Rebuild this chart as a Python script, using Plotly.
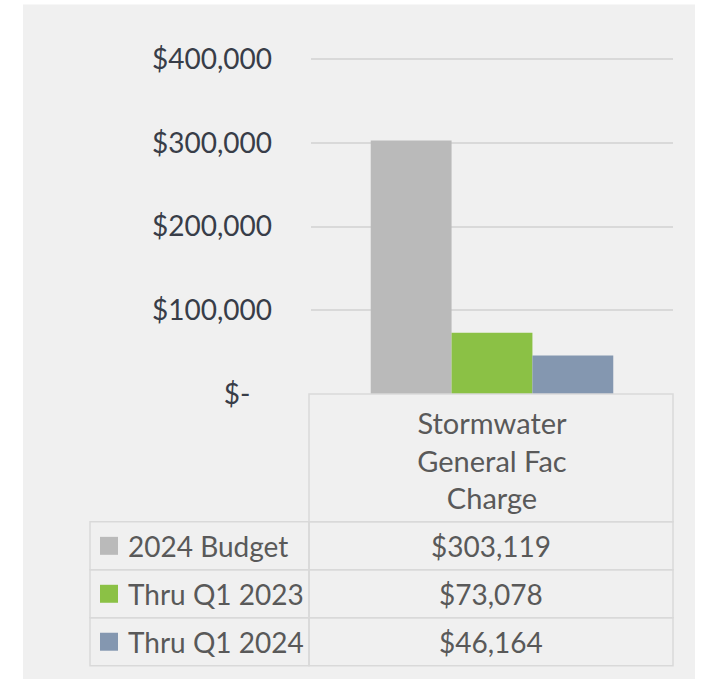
import plotly.graph_objects as go

# ---- data ----
categories = ["Stormwater<br>General Fac<br>Charge"]
series_names = ["2024 Budget", "Thru Q1 2023", "Thru Q1 2024"]
series_values = [303119, 73078, 46164]
series_colors = ["#bababa", "#8bc145", "#8497b0"]
y_tick_values = [0, 100000, 200000, 300000, 400000]
y_tick_labels = ["$-\u00a0\u00a0\u00a0", "$100,000", "$200,000", "$300,000", "$400,000"]

W, H = 705, 679
Y_MAX = 410000
K = (394 - 59) / 400000.0          # pixels per dollar
L, R, B = 311, 673, 394
T = B - Y_MAX * K                  # plot area top in pixels
FONT = "Lato"

def px(x):
    return (x - L) / (R - L)

def py(y):
    return (B - y) / (B - T)

fig = go.Figure()
for name, val, col in zip(series_names, series_values, series_colors):
    fig.add_trace(go.Bar(x=categories, y=[val], name=name, marker_color=col,
                         marker_line_width=0, showlegend=False, hoverinfo="skip"))

shapes = []
# gray background panel
shapes.append(dict(type="rect", xref="paper", yref="paper", x0=px(23), x1=px(695),
                   y0=py(680), y1=py(4), fillcolor="#f0f0f0", line_width=0, layer="below"))
border = dict(color="#d9d9d9", width=1.5)
# header cell
shapes.append(dict(type="rect", xref="paper", yref="paper", x0=px(309), x1=px(673),
                   y0=py(522), y1=py(394), line=border, fillcolor="rgba(0,0,0,0)"))
annotations = []
row_top = 522
row_h = 48
for i, (name, val, col) in enumerate(zip(series_names, series_values, series_colors)):
    y0 = row_top + i * row_h
    y1 = y0 + row_h
    yc = (y0 + y1) / 2
    shapes.append(dict(type="rect", xref="paper", yref="paper", x0=px(90), x1=px(309),
                       y0=py(y1), y1=py(y0), line=border, fillcolor="rgba(0,0,0,0)"))
    shapes.append(dict(type="rect", xref="paper", yref="paper", x0=px(309), x1=px(673),
                       y0=py(y1), y1=py(y0), line=border, fillcolor="rgba(0,0,0,0)"))
    shapes.append(dict(type="rect", xref="paper", yref="paper", x0=px(100), x1=px(118),
                       y0=py(yc + 9), y1=py(yc - 9), line_width=0, fillcolor=col))
    annotations.append(dict(xref="paper", yref="paper", x=px(126), y=py(yc), text=name,
                            showarrow=False, xanchor="left", yanchor="middle",
                            font=dict(family=FONT, size=28, color="#595959")))
    annotations.append(dict(xref="paper", yref="paper", x=px(491), y=py(yc), text=f"${val:,}",
                            showarrow=False, xanchor="center", yanchor="middle",
                            font=dict(family=FONT, size=28, color="#595959")))

fig.update_layout(
    width=W, height=H,
    margin=dict(l=L, r=W - R, t=T, b=H - B, pad=0),
    paper_bgcolor="white", plot_bgcolor="rgba(0,0,0,0)",
    barmode="group", bargap=0.33, bargroupgap=0,
    font=dict(family=FONT),
    shapes=shapes, annotations=annotations,
    xaxis=dict(showgrid=False, showline=False, zeroline=False, ticks="",
               tickfont=dict(family=FONT, size=29, color="#595959"),
               ticklabelstandoff=10),
    yaxis=dict(range=[0, Y_MAX], tickvals=y_tick_values, ticktext=y_tick_labels,
               showgrid=True, gridcolor="#d9d9d9", gridwidth=1.5, zeroline=False,
               showline=False, ticks="", ticklabelstandoff=38,
               tickfont=dict(family=FONT, size=28, color="#383d48")),
)

fig.write_html("out.html", config={"displayModeBar": False},
               post_script="document.body.style.margin='0';")
